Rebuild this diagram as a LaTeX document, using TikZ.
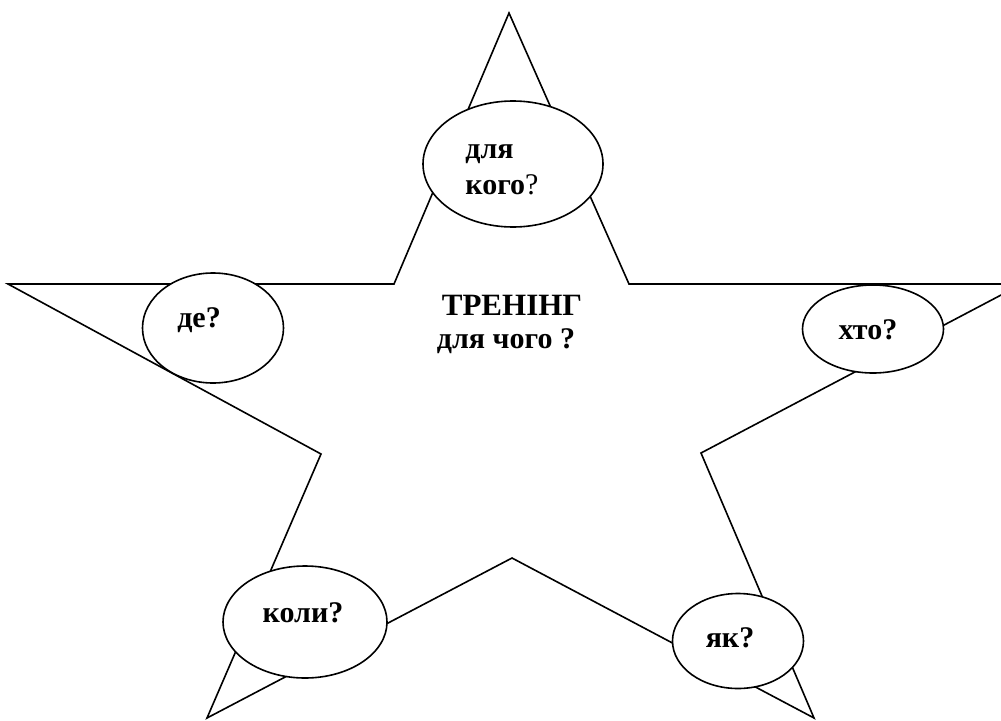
\documentclass[tikz,border=0pt]{standalone}
\usepackage{fontspec}
\setmainfont{Liberation Serif}
\usetikzlibrary{shapes.geometric,calc}
\tikzset{
  starline/.style={draw=black, line width=1.6pt, line join=miter},
  bubble/.style={ellipse, draw=black, fill=white, line width=1.6pt, inner sep=0pt},
  lbl/.style={font=\fontsize{30}{36}\selectfont\bfseries, align=left, inner sep=0pt}
}
\begin{document}
\begin{tikzpicture}[x=1pt,y=-1pt]
  \useasboundingbox (0,0) rectangle (1001,720);
  % star corners
  \coordinate (top) at (509,13);
  \coordinate (iur) at (629,284);
  \coordinate (rt)  at (1022,284);
  \coordinate (ir)  at (701,453);
  \coordinate (brt) at (814,718);
  \coordinate (ib)  at (512,558);
  \coordinate (blt) at (207,718);
  \coordinate (il)  at (321,454);
  \coordinate (lt)  at (8,284);
  \coordinate (iul) at (394,284);
  \draw[starline] (top)--(iur)--(rt)--(ir)--(brt)--(ib)--(blt)--(il)--(lt)--(iul)--cycle;
  % bubbles
  \node[bubble, minimum width=180pt, minimum height=126pt] (whom) at (513,164) {};
  \node[bubble, minimum width=141pt, minimum height=110pt] (where) at (213,328) {};
  \node[bubble, minimum width=141pt, minimum height=88pt] (who) at (873,329) {};
  \node[bubble, minimum width=164pt, minimum height=112pt] (when) at (305,622) {};
  \node[bubble, minimum width=131pt, minimum height=95pt] (how) at (738,641) {};
  \node[lbl] at ($(whom)+(-11,6)$) {для\\кого\textmd{?}};
  \node[lbl] at ($(where)+(-14,-8)$) {де?};
  \node[lbl] at ($(who)+(-5,1)$) {хто?};
  \node[lbl] at ($(when)+(-2,-9)$) {коли?};
  \node[lbl] at ($(how)+(-8,-3)$) {як?};
  % centre text
  \node[lbl, font=\fontsize{31}{37}\selectfont\bfseries] (title) at (512,305) {ТРЕНІНГ};
  \node[lbl] (aim) at (506,341) {для чого ?};
\end{tikzpicture}
\end{document}
